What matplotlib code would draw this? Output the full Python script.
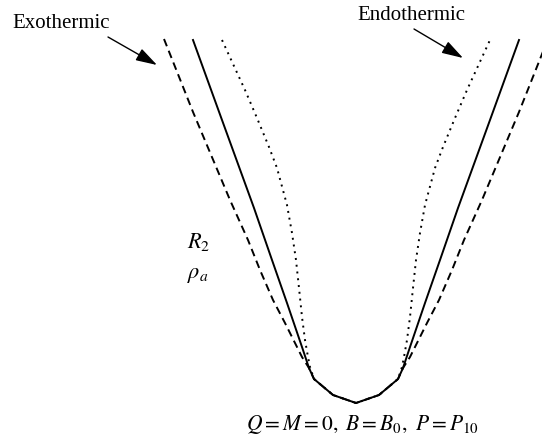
import matplotlib.pyplot as plt
import numpy as np

plt.rcParams['mathtext.fontset'] = 'stix'
plt.rcParams['font.family'] = 'Liberation Serif'

# half-width of each curve (left/right of the axis of symmetry) vs height above the vertex
solid_h = [0, 8, 24, 35, 56, 100, 143, 195, 283, 363]
solid_w = [0, 23, 42, 47, 54, 69, 84, 102, 134, 163]

dashed_h = [0, 8, 24, 35, 46, 60, 80, 103, 133, 163, 203, 291, 364]
dashed_w = [0, 23, 42, 47, 54, 61, 71, 83, 96, 108, 126, 163, 192]

dotted_h = [0, 8, 24, 36, 46, 63, 86, 115, 143, 170, 198, 235, 256, 285, 313, 363]
dotted_w = [0, 23, 42, 46, 48, 51, 54, 57, 60, 64, 69, 79, 87, 99, 111, 134]


def both_sides(w, h):
    w = np.array(w, dtype=float)
    h = np.array(h, dtype=float)
    x = np.concatenate([-w[::-1], w[1:]])
    y = np.concatenate([h[::-1], h[1:]])
    return x, y


fig = plt.figure(figsize=(5.42, 4.45), dpi=100)
ax = fig.add_axes([0, 0, 1, 1])

x, y = both_sides(solid_w, solid_h)
ax.plot(x, y, color='black', lw=1.4)
x, y = both_sides(dashed_w, dashed_h)
ax.plot(x, y, color='black', lw=1.4, linestyle=(0, (4, 2.5)))
x, y = both_sides(dotted_w, dotted_h)
ax.plot(x, y, color='black', lw=1.4, linestyle=(0, (1, 2.5)))

ax.set_xlim(-356, 186)
ax.set_ylim(-42, 403)
ax.axis('off')

ax.text(-344, 375, 'Exothermic', fontsize=15, va='baseline', ha='left')
ax.text(1, 383, 'Endothermic', fontsize=15, va='baseline', ha='left')

arrow = dict(arrowstyle='-|>,head_length=0.65,head_width=0.2', lw=1.0,
             color='black', shrinkA=0, shrinkB=0, mutation_scale=20)
ax.annotate('', xy=(-199, 338), xytext=(-248, 366), arrowprops=arrow)
ax.annotate('', xy=(107, 345), xytext=(58, 374), arrowprops=arrow)

ax.text(-169, 155, r'$R_2$', fontsize=16, ha='left', va='baseline')
ax.text(-169, 125, r'$\rho_a$', fontsize=16, ha='left', va='baseline')
ax.text(6, -27, r'$Q = M = 0,\ B = B_0,\ P = P_{10}$', fontsize=15.5,
        ha='center', va='baseline')

fig.savefig('out.png', dpi=100)
